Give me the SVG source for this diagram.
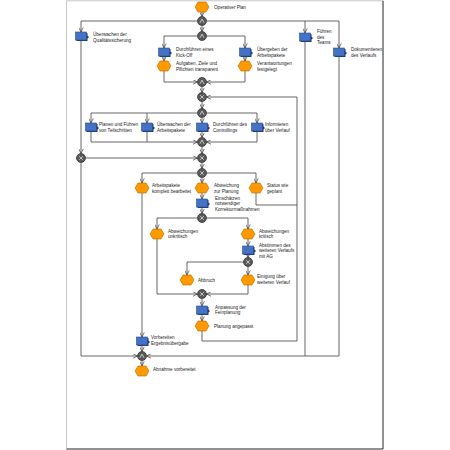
<svg xmlns="http://www.w3.org/2000/svg" xmlns:xlink="http://www.w3.org/1999/xlink" width="450" height="450" viewBox="0 0 450 450">
<style>
text{font-family:"Liberation Sans",Arial,sans-serif;font-size:4.6px;fill:#222}
.c{fill:none;stroke:#555;stroke-width:0.9}
.a{marker-end:url(#ah)}
.gs{fill:none;stroke:#ddd;stroke-width:0.8}
</style>
<defs>
<marker id="ah" viewBox="0 0 6 6" refX="5.5" refY="3" markerWidth="5" markerHeight="5" orient="auto" markerUnits="userSpaceOnUse">
<path d="M0,0.3 L5.5,3 L0,5.7" fill="none" stroke="#333" stroke-width="0.8"/>
</marker>
<g id="fn">
<path d="M-4.5,-3 H6.5 V-0.5 L8,1 L6.5,2.5 V5 H-4.5 Z" fill="#1E3A78"/>
<rect x="-5.5" y="-4" width="11" height="8" fill="#4472C4" stroke="#2A4C8C" stroke-width="0.6"/>
</g>
<path id="ev" d="M-7,0 L-4,-5 H4 L7,0 L4,5 H-4 Z" fill="#FF9900" stroke="#B36A00" stroke-width="0.6"/>
<circle id="gw" r="4.5" fill="#595959" stroke="#2E2E2E" stroke-width="0.7"/>
<path id="and" d="M-2,1.8 L0,-2 L2,1.8" class="gs"/>
<path id="xor" d="M-1.8,-1.8 L1.8,1.8 M1.8,-1.8 L-1.8,1.8" class="gs"/>
</defs>
<rect width="450" height="450" fill="#fff"/>
<path d="M66.5,449 V0.8 H383" fill="none" stroke="#c8c8c8" stroke-width="1"/>
<path d="M383,0.8 V449 H66.5" fill="none" stroke="#222" stroke-width="1"/>

<g id="connectors">
<path class="c a" d="M202,12 V16.5"/>
<path class="c a" d="M197.5,21 H81 V32"/>
<path class="c a" d="M206.5,21 H339 V48"/>
<path class="c a" d="M305,21 V33"/>
<path class="c a" d="M202,25.5 V31.5"/>
<path class="c a" d="M197.5,36 H164 V48"/>
<path class="c a" d="M206.5,36 H245 V48"/>
<path class="c a" d="M164,56 V61"/>
<path class="c a" d="M245,56 V61"/>
<path class="c a" d="M164,71 V82 H197.5"/>
<path class="c a" d="M245,71 V82 H206.5"/>
<path class="c a" d="M202,86.5 V92.5"/>
<path class="c a" d="M202,101.5 V108.5"/>
<path class="c a" d="M197.5,113 H91 V123"/>
<path class="c a" d="M147,113 V123"/>
<path class="c a" d="M202,117.5 V123"/>
<path class="c a" d="M206.5,113 H257 V123"/>
<path class="c a" d="M91,131 V142 H197.5"/>
<path class="c" d="M147,131 V142"/>
<path class="c a" d="M202,131 V137.5"/>
<path class="c a" d="M257,131 V142 H206.5"/>
<path class="c a" d="M202,146.5 V153.5"/>
<path class="c a" d="M202,162.5 V168.5"/>
<path class="c a" d="M197.5,173 H142 V183"/>
<path class="c a" d="M202,177.5 V183"/>
<path class="c a" d="M206.5,173 H256 V183"/>
<path class="c a" d="M81,40 V153.5"/>
<path class="c a" d="M85.5,158 H197.5"/>
<path class="c a" d="M81,162.5 V356 H137.5"/>
<path class="c a" d="M142,193 V337"/>
<path class="c a" d="M142,345 V351.5"/>
<path class="c a" d="M142,360.5 V366"/>
<path class="c a" d="M305,41 V356 H146.5"/>
<path class="c" d="M339,56 V356 H305"/>
<path class="c a" d="M202,193 V199"/>
<path class="c a" d="M202,207 V213.5"/>
<path class="c a" d="M197.5,218 H157 V229"/>
<path class="c a" d="M206.5,218 H248 V229"/>
<path class="c a" d="M248,239 V246"/>
<path class="c a" d="M248,254 V257.5"/>
<path class="c a" d="M243.5,262 H187 V275"/>
<path class="c a" d="M248,266.5 V275"/>
<path class="c a" d="M157,239 V294 H197.5"/>
<path class="c a" d="M248,285 V294 H206.5"/>
<path class="c a" d="M202,298.5 V306"/>
<path class="c a" d="M202,314 V321"/>
<path class="c a" d="M202,331 V341 H297 V97 H206.5"/>
<path class="c" d="M256,193 V205 H297"/>
</g>

<g id="e_start"><use href="#ev" x="202" y="7"/><text x="214" y="9">Operativer Plan</text></g>
<g id="g1"><use href="#gw" x="202" y="21"/><use href="#and" x="202" y="21"/></g>
<g id="f_qs"><use href="#fn" x="81" y="36"/><text x="93" y="36">Überwachen der</text><text x="93" y="42">Qualitätssicherung</text></g>
<g id="f_teams"><use href="#fn" x="305" y="37"/><text x="317" y="33">Führen</text><text x="317" y="38.5">des</text><text x="317" y="44">Teams</text></g>
<g id="f_doku"><use href="#fn" x="339" y="52"/><text x="351" y="51">Dokumentieren</text><text x="351" y="56.5">des Verlaufs</text></g>
<g id="g2"><use href="#gw" x="202" y="36"/><use href="#and" x="202" y="36"/></g>
<g id="f_kick"><use href="#fn" x="164" y="52"/><text x="176" y="51">Durchführen eines</text><text x="176" y="56.5">Kick-Off</text></g>
<g id="f_ueber"><use href="#fn" x="245" y="52"/><text x="257" y="51">Übergeben der</text><text x="257" y="56.5">Arbeitspakete</text></g>
<g id="e_aufg"><use href="#ev" x="164" y="66"/><text x="176" y="64.5">Aufgaben, Ziele und</text><text x="176" y="70.5">Pflichten transparent</text></g>
<g id="e_verant"><use href="#ev" x="245" y="66"/><text x="257" y="64.5">Verantwortungen</text><text x="257" y="70.5">festgelegt</text></g>
<g id="g3"><use href="#gw" x="202" y="82"/><use href="#and" x="202" y="82"/></g>
<g id="g4"><use href="#gw" x="202" y="97"/><use href="#xor" x="202" y="97"/></g>
<g id="g5"><use href="#gw" x="202" y="113"/><use href="#and" x="202" y="113"/></g>
<g id="f_planen"><use href="#fn" x="91" y="127"/><text x="99" y="126">Planen und Führen</text><text x="99" y="132">von Teilschritten</text></g>
<g id="f_ueberw"><use href="#fn" x="147" y="127"/><text x="157" y="126">Überwachen der</text><text x="157" y="132">Arbeitspakete</text></g>
<g id="f_contr"><use href="#fn" x="202" y="127"/><text x="213" y="126">Durchführen des</text><text x="213" y="132">Controllings</text></g>
<g id="f_info"><use href="#fn" x="257" y="127"/><text x="265" y="126">Informieren</text><text x="265" y="132">über Verlauf</text></g>
<g id="g6"><use href="#gw" x="202" y="142"/><use href="#and" x="202" y="142"/></g>
<g id="g_left"><use href="#gw" x="81" y="158"/><use href="#xor" x="81" y="158"/></g>
<g id="g7"><use href="#gw" x="202" y="158"/><use href="#xor" x="202" y="158"/></g>
<g id="g8"><use href="#gw" x="202" y="173"/><use href="#xor" x="202" y="173"/></g>
<g id="e_komplett"><use href="#ev" x="142" y="188"/><text x="152" y="187">Arbeitspakete</text><text x="152" y="193">komplett bearbeitet</text></g>
<g id="e_abw"><use href="#ev" x="202" y="188"/><text x="214" y="187">Abweichung</text><text x="214" y="193">zur Planung</text></g>
<g id="e_status"><use href="#ev" x="256" y="188"/><text x="267" y="187">Status wie</text><text x="267" y="193">geplant</text></g>
<g id="f_einsch"><use href="#fn" x="202" y="203"/><text x="215" y="199.5">Einschätzen</text><text x="215" y="205">notwendiger</text><text x="215" y="210.5">Korrekturmaßnahmen</text></g>
<g id="g9"><use href="#gw" x="202" y="218"/><use href="#xor" x="202" y="218"/></g>
<g id="e_unkr"><use href="#ev" x="157" y="234"/><text x="168" y="232.5">Abweichungen</text><text x="168" y="238">unkritisch</text></g>
<g id="e_krit"><use href="#ev" x="248" y="234"/><text x="259" y="232.5">Abweichungen</text><text x="259" y="238">kritisch</text></g>
<g id="f_abst"><use href="#fn" x="248" y="250"/><text x="259" y="246.5">Abstimmen des</text><text x="259" y="252">weiteren Verlaufs</text><text x="259" y="257.5">mit AG</text></g>
<g id="g10"><use href="#gw" x="248" y="262"/><use href="#xor" x="248" y="262"/></g>
<g id="e_abbruch"><use href="#ev" x="187" y="280"/><text x="198" y="281.5">Abbruch</text></g>
<g id="e_einig"><use href="#ev" x="248" y="280"/><text x="257" y="278">Einigung über</text><text x="257" y="283.5">weiteren Verlauf</text></g>
<g id="g11"><use href="#gw" x="202" y="294"/><use href="#xor" x="202" y="294"/></g>
<g id="f_anp"><use href="#fn" x="202" y="310"/><text x="215" y="308.5">Anpassung der</text><text x="215" y="314">Feinplanung</text></g>
<g id="e_angep"><use href="#ev" x="202" y="326"/><text x="214" y="327.5">Planung angepasst</text></g>
<g id="f_vorb"><use href="#fn" x="142" y="341"/><text x="151" y="339">Vorbereiten</text><text x="151" y="344.5">Ergebnisübergabe</text></g>
<g id="g12"><use href="#gw" x="142" y="356"/><use href="#and" x="142" y="356"/></g>
<g id="e_abnahme"><use href="#ev" x="142" y="371"/><text x="153" y="370.5">Abnahme vorbereitet</text></g>
</svg>
